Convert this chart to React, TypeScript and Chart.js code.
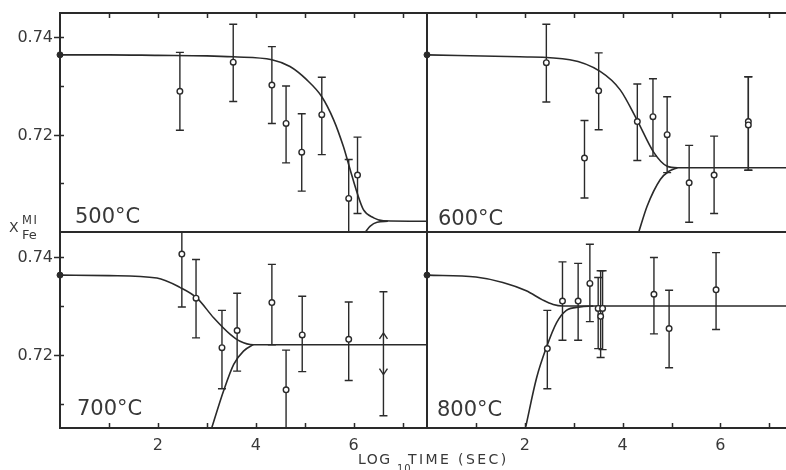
import React, { useEffect, useRef } from 'react';
import { Chart, registerables } from 'chart.js';

Chart.register(...registerables);

const INK = '#2a2a2a';
const TEXT = '#383838';
const FONT = "'DejaVu Sans', sans-serif";

// ---------- labels & ticks ----------
const panelNames = ['500°C', '600°C', '700°C', '800°C'];
const xTickLabels = ['2', '4', '6'];
const yTickLabels = ['0.72', '0.74'];
const xTickValues = [1, 2, 3, 4, 5, 6, 7];
const yTickValues = [0.71, 0.72, 0.73, 0.74];

// ---------- 500°C ----------
const x500 = [2.45, 3.54, 4.33, 4.62, 4.94, 5.35, 5.9, 6.08];
const y500 = [0.7289, 0.7349, 0.7302, 0.7223, 0.7164, 0.7241, 0.7069, 0.7117];
const hi500 = [0.7369, 0.7427, 0.7381, 0.73, 0.7243, 0.7318, 0.7149, 0.7195];
const lo500 = [0.7209, 0.7268, 0.7223, 0.7142, 0.7084, 0.7159, 0.699, 0.7038];
const fitX500 = [0, 1, 2, 3, 3.54, 4.33, 4.7, 5.04, 5.35, 5.59, 5.79, 5.93, 6.07, 6.2, 6.41, 6.61, 7.5];
const fitY500 = [0.7364, 0.7364, 0.7363, 0.7362, 0.736, 0.7354, 0.734, 0.7313, 0.7278, 0.7231, 0.7176, 0.7128, 0.7081, 0.7046, 0.7029, 0.7023, 0.7022];
const riseX500 = [6.24, 6.34, 6.48, 6.7];
const riseY500 = [0.7, 0.7012, 0.702, 0.7022];

// ---------- 600°C ----------
const x600 = [2.44, 3.22, 3.51, 4.3, 4.62, 4.91, 5.36, 5.87, 6.57, 6.57];
const y600 = [0.7348, 0.7152, 0.729, 0.7227, 0.7237, 0.72, 0.7101, 0.7117, 0.7227, 0.722];
const hi600 = [0.7427, 0.7229, 0.7368, 0.7304, 0.7315, 0.7278, 0.7178, 0.7197, 0.7319, 0.7319];
const lo600 = [0.7267, 0.707, 0.721, 0.7147, 0.7156, 0.7122, 0.702, 0.7038, 0.7127, 0.7127];
const fitX600 = [0, 1.89, 2.92, 3.54, 3.95, 4.29, 4.64, 4.91, 5.12, 7.34];
const fitY600 = [0.7364, 0.736, 0.7354, 0.733, 0.7292, 0.7231, 0.7163, 0.7135, 0.7132, 0.7132];
const riseX600 = [4.33, 4.5, 4.77, 4.95, 5.12];
const riseY600 = [0.7, 0.7053, 0.7108, 0.7125, 0.7132];

// ---------- 700°C ----------
const x700 = [2.49, 2.78, 3.31, 3.62, 4.33, 4.62, 4.95, 5.9];
const y700 = [0.7405, 0.7315, 0.7214, 0.7249, 0.7306, 0.7128, 0.724, 0.7231];
const hi700 = [0.747, 0.7394, 0.729, 0.7325, 0.7384, 0.7209, 0.7319, 0.7307];
const lo700 = [0.7297, 0.7234, 0.713, 0.7166, 0.722, 0.703, 0.7165, 0.7147];
const fitX700 = [0, 1, 1.98, 2.45, 2.8, 3.14, 3.48, 3.68, 3.95, 7.5];
const fitY700 = [0.7362, 0.7361, 0.7356, 0.7337, 0.7315, 0.7275, 0.7241, 0.7227, 0.722, 0.722];
const riseX700 = [3.1, 3.34, 3.55, 3.75, 3.95];
const riseY700 = [0.705, 0.7125, 0.718, 0.7207, 0.722];
const arrowBarX700 = [6.61];
const arrowBarHi700 = [0.7328];
const arrowBarLo700 = [0.7075];
const arrowUp700 = [0.7244];
const arrowDown700 = [0.7159];

// ---------- 800°C ----------
const x800 = [2.46, 2.77, 3.09, 3.33, 3.5, 3.55, 3.59, 4.64, 4.95, 5.91];
const y800 = [0.7212, 0.7309, 0.7309, 0.7345, 0.7294, 0.7278, 0.7294, 0.7323, 0.7253, 0.7332];
const hi800 = [0.729, 0.7389, 0.7386, 0.7425, 0.7357, 0.7371, 0.7371, 0.7398, 0.7331, 0.7408];
const lo800 = [0.713, 0.7229, 0.7229, 0.7267, 0.7212, 0.7194, 0.721, 0.7242, 0.7173, 0.7251];
const fitX800 = [0, 1, 1.55, 2.03, 2.37, 2.58, 2.78, 7.34];
const fitY800 = [0.7362, 0.7358, 0.7347, 0.733, 0.7311, 0.7302, 0.7299, 0.7299];
const riseX800 = [2.02, 2.24, 2.44, 2.65, 2.85, 3.13, 3.4];
const riseY800 = [0.7053, 0.7152, 0.7214, 0.7265, 0.729, 0.7297, 0.7299];

// starting composition (filled dot at t = 0)
const startY = [0.7364, 0.7364, 0.7362, 0.7362];

type Area = { l: number; t: number; r: number; b: number };
type Panel = {
  name: string;
  xs: number[]; ys: number[]; hi: number[]; lo: number[];
  fitX: number[]; fitY: number[]; riseX: number[]; riseY: number[];
  start: number;
  area: Area;
  xMax: number; yMin: number; yMax: number;
  showX: boolean; showY: boolean;
  rightSide: boolean;
  topTicks: boolean; bottomTicks: boolean; leftTicks: boolean;
  labelDx: number; labelY: number;
  arrows?: { x: number[]; hi: number[]; lo: number[]; up: number[]; down: number[] };
};

const W = 786;
const H = 470;

const panels: Panel[] = [
  {
    name: panelNames[0], xs: x500, ys: y500, hi: hi500, lo: lo500,
    fitX: fitX500, fitY: fitY500, riseX: riseX500, riseY: riseY500, start: startY[0],
    area: { l: 60, t: 13, r: 427, b: 232 }, xMax: 7.5, yMin: 0.7, yMax: 0.745,
    showX: false, showY: true, rightSide: true, topTicks: true, bottomTicks: false, leftTicks: true,
    labelDx: 15, labelY: 223,
  },
  {
    name: panelNames[1], xs: x600, ys: y600, hi: hi600, lo: lo600,
    fitX: fitX600, fitY: fitY600, riseX: riseX600, riseY: riseY600, start: startY[1],
    area: { l: 427, t: 13, r: 786, b: 232 }, xMax: 7.34, yMin: 0.7, yMax: 0.745,
    showX: false, showY: false, rightSide: false, topTicks: true, bottomTicks: false, leftTicks: false,
    labelDx: 11, labelY: 225,
  },
  {
    name: panelNames[2], xs: x700, ys: y700, hi: hi700, lo: lo700,
    fitX: fitX700, fitY: fitY700, riseX: riseX700, riseY: riseY700, start: startY[2],
    area: { l: 60, t: 232, r: 427, b: 428 }, xMax: 7.5, yMin: 0.705, yMax: 0.745,
    showX: true, showY: true, rightSide: true, topTicks: false, bottomTicks: true, leftTicks: true,
    labelDx: 17, labelY: 415,
    arrows: { x: arrowBarX700, hi: arrowBarHi700, lo: arrowBarLo700, up: arrowUp700, down: arrowDown700 },
  },
  {
    name: panelNames[3], xs: x800, ys: y800, hi: hi800, lo: lo800,
    fitX: fitX800, fitY: fitY800, riseX: riseX800, riseY: riseY800, start: startY[3],
    area: { l: 427, t: 232, r: 786, b: 428 }, xMax: 7.34, yMin: 0.705, yMax: 0.745,
    showX: true, showY: false, rightSide: false, topTicks: false, bottomTicks: true, leftTicks: false,
    labelDx: 10, labelY: 416,
  },
];

const zip = (xs: number[], ys: number[]) => xs.map((x, i) => ({ x, y: ys[i] }));

function panelPlugin(p: Panel) {
  return {
    id: 'panelDecor',
    // pin the plot area exactly to the panel rectangle
    afterLayout(chart: any) {
      const a = chart.chartArea;
      const xs = chart.scales.x;
      if (Math.abs(a.right - p.area.r) > 0.01 || Math.abs(a.left - p.area.l) > 0.01) {
        a.left = p.area.l;
        a.right = p.area.r;
        a.width = a.right - a.left;
        xs.left = p.area.l;
        xs.right = p.area.r;
        xs.width = a.width;
        xs.configure();
      }
    },
    beforeDatasetsDraw(chart: any) {
      const { ctx, chartArea: a, scales } = chart;
      const xs = scales.x;
      const ys = scales.y;
      ctx.save();
      ctx.strokeStyle = INK;
      ctx.lineCap = 'butt';

      // frame
      ctx.lineWidth = 2;
      ctx.beginPath();
      ctx.moveTo(a.left, a.top); ctx.lineTo(a.right, a.top);
      ctx.moveTo(a.left, a.bottom); ctx.lineTo(a.right, a.bottom);
      ctx.moveTo(a.left, a.top - 1); ctx.lineTo(a.left, a.bottom + 1);
      if (p.rightSide) { ctx.moveTo(a.right, a.top - 1); ctx.lineTo(a.right, a.bottom + 1); }
      ctx.stroke();

      // tick marks
      ctx.lineWidth = 1.5;
      ctx.beginPath();
      if (p.leftTicks) {
        ys.ticks.forEach((t: any) => {
          const v = t.value;
          const py = Math.round(ys.getPixelForValue(v)) + 0.5;
          const major = yTickLabels.includes(v.toFixed(2));
          ctx.moveTo(a.left - (major ? 6 : 0), py);
          ctx.lineTo(a.left + 4, py);
        });
      }
      xs.ticks.forEach((t: any) => {
        const px = Math.round(xs.getPixelForValue(t.value)) + 0.5;
        if (p.topTicks) { ctx.moveTo(px, a.top); ctx.lineTo(px, a.top + 5); }
        if (p.bottomTicks) { ctx.moveTo(px, a.bottom); ctx.lineTo(px, a.bottom - 5); }
      });
      ctx.stroke();

      // error bars
      ctx.save();
      ctx.beginPath();
      ctx.rect(a.left, a.top, a.right - a.left, a.bottom - a.top);
      ctx.clip();
      ctx.lineWidth = 1.4;
      const bar = (x: number, lo: number, hi: number) => {
        const px = xs.getPixelForValue(x);
        const pHi = ys.getPixelForValue(hi);
        const pLo = ys.getPixelForValue(lo);
        ctx.beginPath();
        ctx.moveTo(px, pHi); ctx.lineTo(px, pLo);
        ctx.moveTo(px - 4, pHi); ctx.lineTo(px + 4, pHi);
        ctx.moveTo(px - 4, pLo); ctx.lineTo(px + 4, pLo);
        ctx.stroke();
      };
      p.xs.forEach((x, i) => bar(x, p.lo[i], p.hi[i]));
      if (p.arrows) {
        const ar = p.arrows;
        ar.x.forEach((x, i) => {
          bar(x, ar.lo[i], ar.hi[i]);
          const px = xs.getPixelForValue(x);
          const pu = ys.getPixelForValue(ar.up[i]);
          const pd = ys.getPixelForValue(ar.down[i]);
          ctx.beginPath();
          ctx.moveTo(px - 4, pu + 6); ctx.lineTo(px, pu); ctx.lineTo(px + 4, pu + 6);
          ctx.moveTo(px - 4, pd - 6); ctx.lineTo(px, pd); ctx.lineTo(px + 4, pd - 6);
          ctx.stroke();
        });
      }
      ctx.restore();

      // panel label
      ctx.fillStyle = TEXT;
      ctx.font = `21px ${FONT}`;
      ctx.textBaseline = 'alphabetic';
      ctx.textAlign = 'left';
      ctx.fillText(p.name, a.left + p.labelDx, p.labelY);
      ctx.restore();
    },
  };
}

function makeConfig(p: Panel): any {
  const { area } = p;
  return {
    type: 'scatter',
    data: {
      datasets: [
        {
          data: zip(p.xs, p.ys),
          showLine: false,
          pointRadius: 2.8,
          pointBackgroundColor: '#ffffff',
          pointBorderColor: INK,
          pointBorderWidth: 1.4,
          order: 0,
        },
        {
          data: [{ x: 0, y: p.start }],
          showLine: false,
          pointRadius: 3,
          pointBackgroundColor: INK,
          pointBorderColor: INK,
          pointBorderWidth: 1,
          clip: false,
          order: 1,
        },
        {
          data: zip(p.fitX, p.fitY),
          showLine: true,
          borderColor: INK,
          borderWidth: 1.6,
          pointRadius: 0,
          cubicInterpolationMode: 'monotone',
          fill: false,
          order: 2,
        },
        {
          data: zip(p.riseX, p.riseY),
          showLine: true,
          borderColor: INK,
          borderWidth: 1.6,
          pointRadius: 0,
          cubicInterpolationMode: 'monotone',
          fill: false,
          order: 3,
        },
      ],
    },
    options: {
      responsive: false,
      maintainAspectRatio: false,
      animation: false,
      devicePixelRatio: 1,
      events: [],
      layout: { padding: { left: 0, top: area.t, right: W - area.r, bottom: 0 } },
      scales: {
        x: {
          type: 'linear',
          position: 'bottom',
          min: 0,
          max: p.xMax,
          grid: { display: false, drawTicks: false },
          border: { display: false },
          afterBuildTicks: (s: any) => {
            s.ticks = xTickValues.map((v) => ({ value: v }));
          },
          ticks: {
            display: p.showX,
            autoSkip: false,
            maxRotation: 0,
            padding: 8,
            color: TEXT,
            font: { family: FONT, size: 16 },
            callback: (v: any) => (xTickLabels.includes(String(v)) ? String(v) : ''),
          },
          afterFit: (s: any) => {
            s.height = H - area.b;
            s.paddingLeft = 0;
            s.paddingRight = 0;
            s.paddingTop = 0;
            s.paddingBottom = 0;
          },
        },
        y: {
          type: 'linear',
          position: 'left',
          min: p.yMin,
          max: p.yMax,
          grid: { display: false, drawTicks: false },
          border: { display: false },
          afterBuildTicks: (s: any) => {
            s.ticks = yTickValues.map((v) => ({ value: v }));
          },
          ticks: {
            display: p.showY,
            autoSkip: false,
            padding: 7,
            labelOffset: 1,
            color: TEXT,
            font: { family: FONT, size: 16 },
            callback: (v: any) => {
              const s = Number(v).toFixed(2);
              return yTickLabels.includes(s) ? s : '';
            },
          },
          afterFit: (s: any) => {
            s.width = area.l;
            s.paddingTop = 0;
            s.paddingBottom = 0;
            s.paddingLeft = 0;
            s.paddingRight = 0;
          },
        },
      },
      plugins: {
        legend: { display: false },
        tooltip: { enabled: false },
        title: { display: false },
      },
    },
    plugins: [panelPlugin(p)],
  };
}

const abs = (left: number, top: number, size: number, extra: any = {}) => ({
  position: 'absolute' as const,
  left,
  top,
  fontSize: size,
  lineHeight: `${size}px`,
  whiteSpace: 'nowrap' as const,
  ...extra,
});

export default function App() {
  const canvases = useRef<(HTMLCanvasElement | null)[]>([]);

  useEffect(() => {
    const charts = panels.map((p, i) => new Chart(canvases.current[i] as HTMLCanvasElement, makeConfig(p)));
    return () => charts.forEach((c) => c.destroy());
  }, []);

  return (
    <div
      style={{
        position: 'fixed',
        left: 0,
        top: 0,
        width: W,
        height: H,
        overflow: 'hidden',
        background: '#ffffff',
        fontFamily: FONT,
        color: TEXT,
      }}
    >
      {panels.map((p, i) => (
        <canvas
          key={p.name}
          ref={(el) => {
            canvases.current[i] = el;
          }}
          width={W}
          height={H}
          style={{ position: 'absolute', left: 0, top: 0, width: W, height: H }}
        />
      ))}
      {/* y-axis title: X with superscript MI and subscript Fe */}
      <span style={abs(9, 220, 14)}>X</span>
      <span style={abs(22, 215, 11.5, { letterSpacing: '1.5px' })}>MI</span>
      <span style={abs(22, 228, 13)}>Fe</span>
      {/* x-axis title: LOG10 TIME (SEC) */}
      <span style={abs(358, 451.5, 14, { letterSpacing: '1.5px' })}>LOG</span>
      <span style={abs(397, 463.5, 10, { letterSpacing: '1px' })}>10</span>
      <span style={abs(408, 451.5, 14, { letterSpacing: '2.4px' })}>TIME (SEC)</span>
    </div>
  );
}
